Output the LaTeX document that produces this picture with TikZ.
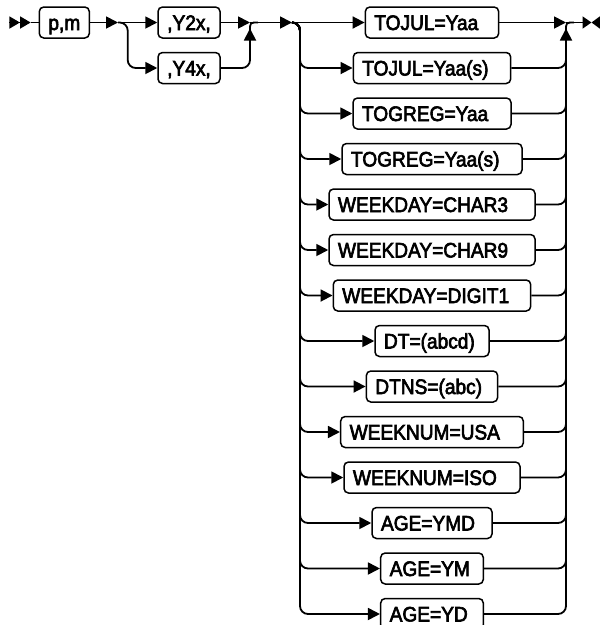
\documentclass[tikz,border=0pt]{standalone}
\usepackage{fontspec}
\setmainfont{Liberation Sans}[FakeStretch=0.91,FakeBold=3]
\usetikzlibrary{arrows.meta}
\begin{document}
\begin{tikzpicture}[x=1pt,y=-1pt,line width=1.8pt,
  >={Triangle[length=12pt,width=12pt]},
  box/.style={draw,line width=1.5pt,rounded corners=4.5pt,minimum height=31pt,
    inner ysep=0pt,inner xsep=0pt,text height=15pt,text depth=0pt,
    font=\fontsize{21}{21}\selectfont},
  ch/.style={box,inner xsep=9pt,text width=#1,align=left},
  rc/.style={rounded corners=8pt}]
\useasboundingbox (0,0) rectangle (600,625);
% coordinates
\coordinate (s0) at (9.3,22.5);
\coordinate (s1) at (30.7,22.5);
\coordinate (sp) at (118,22.5);
\coordinate (jl) at (250,22.5);
\coordinate (sp2) at (292,22.5);
\coordinate (jr) at (566,22.5);
\coordinate (e1) at (591.5,22.5);
\coordinate (e2) at (600,22.5);
% nodes
\node[box,minimum width=50pt] (pm) at (64.3,22.5) {p,m};
\node[box,minimum width=62pt] (y2) at (189,22.5) {,Y2x,};
\node[box,minimum width=62pt] (y4) at (189,68) {,Y4x,};
\node[ch=115.3pt] (c1) at (432,22.5) {TOJUL=Yaa};
\node[ch=139.4pt] (c2) at (432,68) {TOJUL=Yaa(s)};
\node[ch=140pt] (c3) at (432,113.5) {TOGREG=Yaa};
\node[ch=162pt] (c4) at (432,159) {TOGREG=Yaa(s)};
\node[ch=188pt] (c5) at (432,204.5) {WEEKDAY=CHAR3};
\node[ch=188pt] (c6) at (432,250) {WEEKDAY=CHAR9};
\node[ch=179.4pt] (c7) at (432,295.5) {WEEKDAY=DIGIT1};
\node[ch=96pt] (c8) at (432,341) {DT=(abcd)};
\node[ch=113.3pt] (c9) at (432,386.5) {DTNS=(abc)};
\node[ch=164.6pt] (c10) at (432,432) {WEEKNUM=USA};
\node[ch=158pt] (c11) at (432,477.5) {WEEKNUM=ISO};
\node[ch=102pt] (c12) at (432,523) {AGE=YMD};
\node[ch=84.6pt] (c13) at (432,568.5) {AGE=YM};
\node[ch=84.6pt] (c14) at (432,614) {AGE=YD};
% start
\draw[-{Triangle[length=10.7pt,width=12pt]Triangle[length=10.7pt,width=12pt]}] (s0) -- (s1);
\draw (s1) -- (pm.west);
\draw[->] (pm.east) -- (sp);
\draw[->] (sp) -- (y2.west);
\draw[->,rc] (sp) -- (127.7,22.5) |- (y4.west);
\draw[->] (y2.east) -- (jl);
\draw[->,rc] (y4.east) -| (250,28.5);
\draw (250,31) .. controls (250,22.5) .. (258,22.5);
\draw[->] (jl) -- (sp2);
% big choice
\draw[->] (sp2) -- (c1.west);
\foreach \i in {2,...,14} {
  \draw[->,rc] (sp2) -- (300,22.5) |- (c\i.west);
}
\draw[->] (c1.east) -- (jr);
\foreach \i in {2,...,13} {
  \draw[rc] (c\i.east) -| (566,40);
}
\draw[->,rc] (c14.east) -| (566,28.5);
\draw (566,31) .. controls (566,22.5) .. (574,22.5);
% end
\draw[-{Triangle[length=9pt,width=12pt]}] (jr) -- (e1);
\draw[-{Triangle[length=8.5pt,width=12pt]}] (e2) -- (e1);
\end{tikzpicture}
\end{document}
